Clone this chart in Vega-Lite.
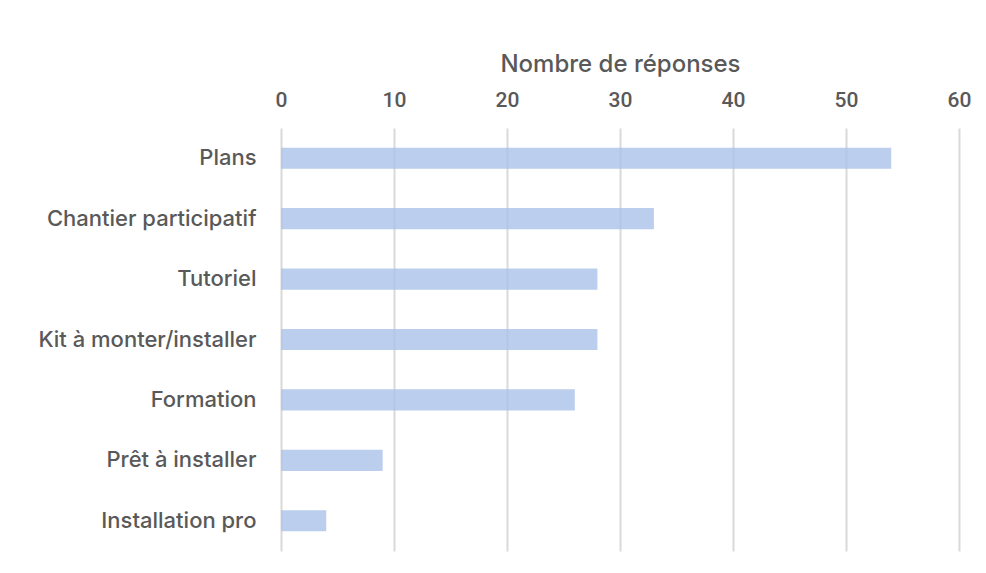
{
  "$schema": "https://vega.github.io/schema/vega-lite/v6.json",
  "autosize": "none",
  "padding": {"left": 281, "top": 128, "right": 27, "bottom": 22},
  "width": 678,
  "height": 423,
  "background": "white",
  "config": {
    "view": {"stroke": null},
    "font": "Inter"
  },
  "data": {
    "values": [
      {"cat": "Plans", "n": 54},
      {"cat": "Chantier participatif", "n": 33},
      {"cat": "Tutoriel", "n": 28},
      {"cat": "Kit à monter/installer", "n": 28},
      {"cat": "Formation", "n": 26},
      {"cat": "Prêt à installer", "n": 9},
      {"cat": "Installation pro", "n": 4}
    ]
  },
  "mark": {"type": "bar", "color": "#ABC2E8", "opacity": 0.8},
  "encoding": {
    "y": {
      "field": "cat",
      "type": "nominal",
      "sort": null,
      "scale": {"paddingInner": 0.65, "paddingOuter": 0.325},
      "axis": {
        "title": null,
        "domain": false,
        "ticks": false,
        "labelPadding": 25,
        "labelFontSize": 22,
        "labelFontWeight": 500,
        "labelLimit": 300,
        "labelColor": "#595959",
        "labelFont": "Inter"
      }
    },
    "x": {
      "field": "n",
      "type": "quantitative",
      "scale": {"domain": [0, 60]},
      "axis": {
        "orient": "top",
        "title": "Nombre de réponses",
        "titleFontSize": 24,
        "titleFontWeight": 500,
        "titleColor": "#595959",
        "titleFont": "Inter",
        "titlePadding": 13,
        "values": [0, 10, 20, 30, 40, 50, 60],
        "labelOverlap": false,
        "labelFlush": false,
        "domain": false,
        "ticks": false,
        "labelPadding": 18,
        "labelFontSize": 21,
        "labelFontWeight": 500,
        "labelColor": "#595959",
        "labelFont": "Roboto",
        "grid": true,
        "gridColor": "#D9D9D9",
        "gridWidth": 2
      }
    }
  }
}
